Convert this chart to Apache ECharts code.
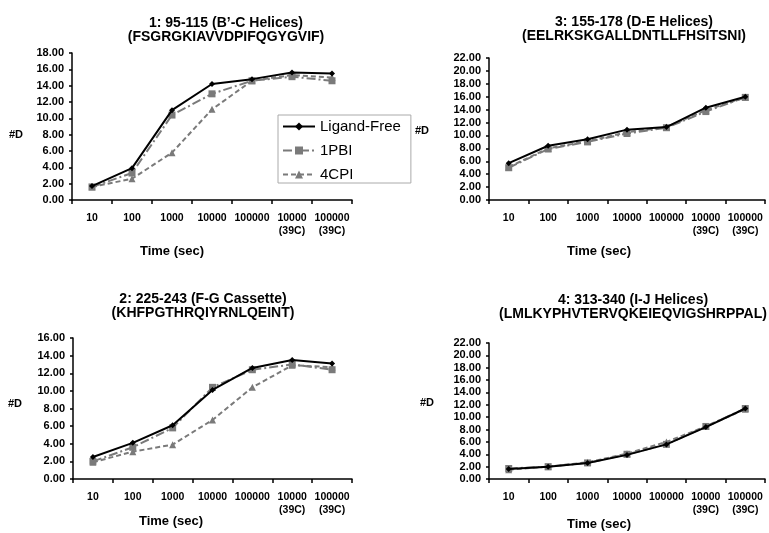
<!DOCTYPE html>
<html><head><meta charset="utf-8">
<script src="https://cdn.jsdelivr.net/npm/echarts@6/dist/echarts.min.js"></script>
<style>html,body{margin:0;padding:0;background:#fff}#c{width:769px;height:533px}</style>
</head><body><div id="c"></div>
<script>
const categories = ['10','100','1000','10000','100000','10000\n(39C)','100000\n(39C)'];
const seriesNames = ['Ligand-Free','1PBI','4CPI'];
const titles = [
  '1: 95-115 (B\u2019-C Helices)\n(FSGRGKIAVVDPIFQGYGVIF)',
  '2: 225-243 (F-G Cassette)\n(KHFPGTHRQIYRNLQEINT)',
  '3: 155-178 (D-E Helices)\n(EELRKSKGALLDNTLLFHSITSNI)',
  '4: 313-340 (I-J Helices)\n(LMLKYPHVTERVQKEIEQVIGSHRPPAL)'
];
const yAxisTitle = '#D';
const xAxisTitle = 'Time (sec)';
const yMax = [18, 16, 22, 22];
// panel 1
const p1LigandFree = [1.7, 3.9, 11.0, 14.2, 14.8, 15.6, 15.5];
const p1PBI = [1.6, 3.3, 10.4, 13.0, 14.6, 15.1, 14.6];
const p1CPI = [1.6, 2.6, 5.8, 11.1, 14.6, 15.3, 15.0];
// panel 2
const p2LigandFree = [2.5, 4.1, 6.1, 10.1, 12.6, 13.5, 13.1];
const p2PBI = [2.0, 3.6, 5.8, 10.4, 12.4, 13.0, 12.4];
const p2CPI = [1.9, 3.1, 3.9, 6.7, 10.4, 12.9, 12.7];
// panel 3
const p3LigandFree = [5.7, 8.4, 9.4, 10.9, 11.3, 14.3, 16.0];
const p3PBI = [5.0, 7.9, 9.0, 10.3, 11.2, 13.7, 15.9];
const p3CPI = [5.1, 8.0, 9.1, 10.5, 11.3, 13.9, 15.9];
// panel 4
const p4LigandFree = [1.6, 2.0, 2.6, 3.9, 5.6, 8.4, 11.4];
const p4PBI = [1.7, 2.0, 2.6, 4.0, 5.6, 8.5, 11.4];
const p4CPI = [1.5, 2.0, 2.7, 4.1, 6.0, 8.5, 11.3];
const panelData = [
  [p1LigandFree, p1PBI, p1CPI],
  [p2LigandFree, p2PBI, p2CPI],
  [p3LigandFree, p3PBI, p3CPI],
  [p4LigandFree, p4PBI, p4CPI]
];

const FONT = '"Liberation Sans", Arial, sans-serif';
const grids = [
  {left: 72, top: 53, width: 280, height: 147},
  {left: 73, top: 338, width: 279, height: 141},
  {left: 489, top: 58, width: 276, height: 142},
  {left: 489, top: 343, width: 276, height: 136}
];
const titlePos = [[226, 16], [203, 292], [634, 15], [633, 293]];
const yNamePos = [[23, 135], [22, 404], [429, 131], [434, 403]];
const xNamePos = [[172, 251], [171, 521], [599, 251], [599, 524]];

const styles = [
  {color: '#000', type: 'solid', symbol: 'diamond', size: 6, z: 5},
  {color: '#7a7a7a', type: [9, 3, 2, 3], symbol: 'rect', size: 7, z: 4},
  {color: '#7a7a7a', type: [5, 3], symbol: 'triangle', size: 7, z: 3}
];

const xAxes = [], yAxes = [], series = [], graphics = [];
for (let p = 0; p < 4; p++) {
  xAxes.push({
    type: 'category', gridIndex: p, data: categories, boundaryGap: true,
    axisLine: {lineStyle: {color: '#000', width: 1.5}},
    axisTick: {show: true, length: 4, lineStyle: {color: '#000', width: 1.5}},
    axisLabel: {color: '#000', fontFamily: FONT, fontWeight: 'bold', fontSize: 10.5, margin: 12, lineHeight: 13, interval: 0}
  });
  yAxes.push({
    type: 'value', gridIndex: p, min: 0, max: yMax[p], interval: 2,
    splitLine: {show: false},
    axisLine: {show: true, lineStyle: {color: '#000', width: 1.5}},
    axisTick: {show: true, length: 3, lineStyle: {color: '#000', width: 1.5}},
    axisLabel: {color: '#000', fontFamily: FONT, fontWeight: 'bold', fontSize: 11, margin: 8,
      formatter: v => v.toFixed(2)}
  });
  for (let s = 0; s < 3; s++) {
    const st = styles[s];
    series.push({
      type: 'line', name: seriesNames[s], xAxisIndex: p, yAxisIndex: p,
      data: panelData[p][s], symbol: st.symbol, symbolSize: st.size, z: st.z,
      lineStyle: {color: st.color, width: 2, type: st.type},
      itemStyle: {color: st.color}, animation: false
    });
  }
  graphics.push({
    type: 'text', x: titlePos[p][0], y: titlePos[p][1],
    style: {text: titles[p], textAlign: 'center', fill: '#000', font: 'bold 14px ' + FONT, lineHeight: 14}
  });
  graphics.push({
    type: 'text', x: yNamePos[p][0], y: yNamePos[p][1],
    style: {text: yAxisTitle, textAlign: 'right', textVerticalAlign: 'middle', fill: '#000', font: 'bold 11px ' + FONT}
  });
  graphics.push({
    type: 'text', x: xNamePos[p][0], y: xNamePos[p][1],
    style: {text: xAxisTitle, textAlign: 'center', textVerticalAlign: 'middle', fill: '#000', font: 'bold 13px ' + FONT}
  });
}

const chart = echarts.init(document.getElementById('c'), null, {renderer: 'canvas'});
chart.setOption({
  animation: false,
  grid: grids,
  xAxis: xAxes,
  yAxis: yAxes,
  series: series,
  graphic: graphics,
  legend: {
    data: seriesNames, orient: 'vertical', left: 278, top: 115,
    itemWidth: 32, itemHeight: 10, itemGap: 9,
    padding: [4, 10, 1, 4], borderColor: '#aaa', borderWidth: 1,
    textStyle: {color: '#000', fontFamily: FONT, fontSize: 15}
  }
});
</script></body></html>
